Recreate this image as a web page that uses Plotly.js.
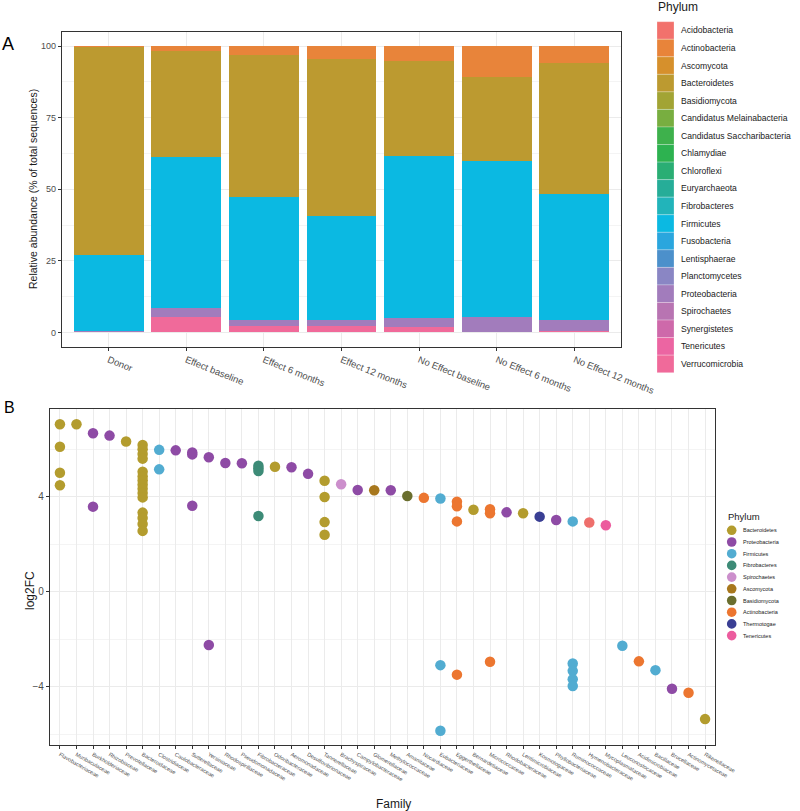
<!DOCTYPE html>
<html>
<head>
<meta charset="utf-8">
<script src="https://cdn.plot.ly/plotly-3.0.1.min.js"></script>
<style>html,body{margin:0;padding:0;background:#fff;}#chart{width:800px;height:811px;}</style>
</head>
<body>
<div id="chart"></div>
<script>
// ---------- Panel A data ----------
const groups = ['Donor','Effect baseline','Effect 6 months','Effect 12 months','No Effect baseline','No Effect 6 months','No Effect 12 months'];
const phyla = ['Acidobacteria','Actinobacteria','Ascomycota','Bacteroidetes','Basidiomycota','Candidatus Melainabacteria','Candidatus Saccharibacteria','Chlamydiae','Chloroflexi','Euryarchaeota','Fibrobacteres','Firmicutes','Fusobacteria','Lentisphaerae','Planctomycetes','Proteobacteria','Spirochaetes','Synergistetes','Tenericutes','Verrucomicrobia'];
const phylaColors = ['#F2716C','#E8843A','#D6902C','#BC9A30','#A2A434','#78AE40','#3EB14C','#2DB250','#2AAE74','#26AD98','#22B4BA','#0BB9E2','#2AA6DE','#4C90CB','#8A86C4','#A27CBC','#B874B2','#CE69AA','#EC65A2','#F06A9A'];
const actinobacteria  = [0.5, 1.6, 3.1, 4.7, 5.1, 10.7, 6.1];
const bacteroidetes   = [72.5, 37.0, 49.5, 54.7, 33.2, 29.5, 45.7];
const firmicutes      = [26.6, 53.0, 43.1, 36.3, 56.8, 54.6, 43.9];
const proteobacteria  = [0.4, 3.2, 2.1, 2.1, 2.9, 4.9, 3.8];
const verrucomicrobia = [0.0, 5.2, 2.2, 2.2, 2.0, 0.3, 0.5];
const barSeries = {
  'Verrucomicrobia': verrucomicrobia,
  'Proteobacteria': proteobacteria,
  'Firmicutes': firmicutes,
  'Bacteroidetes': bacteroidetes,
  'Actinobacteria': actinobacteria
};

// ---------- Panel B data ----------
const families = ['Flavobacteriaceae','Muribaculaceae','Burkholderiaceae','Rhizobiaceae','Prevotellaceae','Bacteroidaceae','Clostridiaceae','Caulobacteraceae','Sutterellaceae','Yersiniaceae','Rhodospirillaceae','Pseudomonadaceae','Fibrobacteraceae','Odoribacteraceae','Aeromonadaceae','Desulfovibrionaceae','Tannerellaceae','Brachyspiraceae','Campylobacteraceae','Glomerellaceae','Methylococcaceae','Amanitaceae','Nocardiaceae','Eubacteriaceae','Eggerthellaceae','Bernardetiaceae','Micrococcaceae','Rhodobacteraceae','Lentimicrobiaceae','Kosmotogaceae','Phyllobacteriaceae','Ruminococcaceae','Hymenobacteraceae','Mycoplasmataceae','Leuconostocaceae','Acidimicrobiaceae','Bacillaceae','Brucellaceae','Actinomycetaceae','Rikenellaceae'];
const ptFamily = [1,1,1,1, 2, 3,3, 4, 5,
  6,6,6,6,6,6,6,6,6,6,6,6,6,6,6,
  7,7, 8, 9,9,9, 10,10, 11, 12, 13,13,13,13, 14, 15, 16, 17,17,17,17, 18, 19, 20, 21, 22, 23,
  24,24,24, 25,25,25,25, 26, 27,27,27, 28, 29, 30, 31, 32,32,32,32,32, 33, 34, 35, 36, 37, 38, 39, 40];
const ptLog2FC = [7.05,6.1,5.01,4.48, 7.05, 6.67,3.58, 6.57, 6.32,
  6.18,6.0,5.8,5.6,5.05,4.85,4.68,4.5,4.33,4.15,3.97,3.33,3.1,2.85,2.56,
  5.97,5.15, 5.95, 5.86,5.78,3.62, 5.66,-2.24, 5.42, 5.41, 5.3,5.2,5.08,3.19, 5.26, 5.24, 4.96, 4.67,3.99,2.93,2.4, 4.52, 4.28, 4.27, 4.27, 4.03, 3.95,
  3.92,-3.09,-5.85, 3.79,3.6,2.96,-3.49, 3.45, 3.47,3.3,-2.95, 3.34, 3.3, 3.16, 3.02, 2.96,-3.02,-3.33,-3.68,-3.97, 2.91, 2.8, -2.27, -2.93, -3.3, -4.08, -4.25, -5.36];
const ptPhylum = ['Bacteroidetes','Bacteroidetes','Bacteroidetes','Bacteroidetes','Bacteroidetes','Proteobacteria','Proteobacteria','Proteobacteria','Bacteroidetes',
  'Bacteroidetes','Bacteroidetes','Bacteroidetes','Bacteroidetes','Bacteroidetes','Bacteroidetes','Bacteroidetes','Bacteroidetes','Bacteroidetes','Bacteroidetes','Bacteroidetes','Bacteroidetes','Bacteroidetes','Bacteroidetes','Bacteroidetes',
  'Firmicutes','Firmicutes','Proteobacteria','Proteobacteria','Proteobacteria','Proteobacteria','Proteobacteria','Proteobacteria','Proteobacteria','Proteobacteria','Fibrobacteres','Fibrobacteres','Fibrobacteres','Fibrobacteres','Bacteroidetes','Proteobacteria','Proteobacteria','Bacteroidetes','Bacteroidetes','Bacteroidetes','Bacteroidetes','Spirochaetes','Proteobacteria','Ascomycota','Proteobacteria','Basidiomycota','Actinobacteria',
  'Firmicutes','Firmicutes','Firmicutes','Actinobacteria','Actinobacteria','Actinobacteria','Actinobacteria','Bacteroidetes','Actinobacteria','Actinobacteria','Actinobacteria','Proteobacteria','Bacteroidetes','Thermotogae','Proteobacteria','Firmicutes','Firmicutes','Firmicutes','Firmicutes','Firmicutes','Acidobacteria','Tenericutes','Firmicutes','Actinobacteria','Firmicutes','Proteobacteria','Actinobacteria','Bacteroidetes'];
const bPhyla = ['Bacteroidetes','Proteobacteria','Firmicutes','Fibrobacteres','Spirochaetes','Ascomycota','Basidiomycota','Actinobacteria','Thermotogae','Tenericutes'];
const bColors = ['#B39C2E','#8E4BA5','#52ACD1','#3D8B77','#CC8FCC','#A8781E','#6A6E2E','#EC7630','#3A3F94','#EC5C9E'];
const extraPhyla = ['Acidobacteria'];
const extraColors = ['#EE6F6C'];

// ---------- helpers ----------
const W = 800, H = 811;
const px = x => x / W;
const py = y => 1 - y / H;
const FONT = 'Liberation Sans, Arial, sans-serif';

const traces = [];
// Panel A bars (first trace drawn at bottom of stack)
Object.keys(barSeries).forEach(name => {
  traces.push({
    type: 'bar', x: groups, y: barSeries[name], name: name,
    marker: {color: phylaColors[phyla.indexOf(name)], line: {width: 0}},
    width: 0.9, xaxis: 'x', yaxis: 'y', showlegend: false, hoverinfo: 'skip'
  });
});
// Panel B points
const allB = bPhyla.concat(extraPhyla);
const allBC = bColors.concat(extraColors);
allB.forEach((ph, k) => {
  const xs = [], ys = [];
  ptPhylum.forEach((p, i) => { if (p === ph) { xs.push(families[ptFamily[i] - 1]); ys.push(ptLog2FC[i]); } });
  traces.push({
    type: 'scatter', mode: 'markers', x: xs, y: ys, name: ph,
    marker: {color: allBC[k], size: 10.5, line: {width: 0}},
    xaxis: 'x2', yaxis: 'y2', showlegend: false, hoverinfo: 'skip', cliponaxis: false
  });
});

const shapes = [];
const annotations = [];
// Legend A
const keyTop = 21.7, keyH = 17.55;
phyla.forEach((ph, i) => {
  const y0 = keyTop + i * keyH;
  shapes.push({type: 'rect', xref: 'paper', yref: 'paper', x0: px(657), x1: px(674), y0: py(y0), y1: py(y0 + keyH),
    fillcolor: phylaColors[i], line: {color: 'rgba(255,255,255,0.5)', width: 0.5}, layer: 'above'});
  annotations.push({xref: 'paper', yref: 'paper', x: px(679), y: py(y0 + keyH / 2), text: ph, showarrow: false,
    xanchor: 'left', yanchor: 'middle', font: {family: FONT, size: 8.6, color: '#1A1A1A'}});
});
annotations.push({xref: 'paper', yref: 'paper', x: px(656), y: py(7), text: 'Phylum', showarrow: false,
  xanchor: 'left', yanchor: 'middle', font: {family: FONT, size: 12, color: '#1A1A1A'}});
// Legend B
bPhyla.forEach((ph, i) => {
  const cy = 530.3 + i * 11.7, cx = 731.7, r = 4.8;
  shapes.push({type: 'circle', xref: 'paper', yref: 'paper', x0: px(cx - r), x1: px(cx + r), y0: py(cy - r), y1: py(cy + r),
    fillcolor: bColors[i], line: {width: 0}, layer: 'above'});
  annotations.push({xref: 'paper', yref: 'paper', x: px(741), y: py(cy), text: ph, showarrow: false,
    xanchor: 'left', yanchor: 'middle', font: {family: FONT, size: 5.5, color: '#1A1A1A'}});
});
annotations.push({xref: 'paper', yref: 'paper', x: px(726), y: py(516.5), text: 'Phylum', showarrow: false,
  xanchor: 'left', yanchor: 'middle', font: {family: FONT, size: 9.5, color: '#1A1A1A'}});
// Panel labels & axis titles
annotations.push({xref: 'paper', yref: 'paper', x: px(0), y: py(43.5), text: 'A', showarrow: false,
  xanchor: 'left', yanchor: 'middle', font: {family: FONT, size: 18, color: '#000'}});
annotations.push({xref: 'paper', yref: 'paper', x: px(2), y: py(407), text: 'B', showarrow: false,
  xanchor: 'left', yanchor: 'middle', font: {family: FONT, size: 16, color: '#000'}});
annotations.push({xref: 'paper', yref: 'paper', x: px(33), y: py(189), text: 'Relative abundance (% of total sequences)', showarrow: false,
  textangle: -90, xanchor: 'center', yanchor: 'middle', font: {family: FONT, size: 10.5, color: '#1A1A1A'}});
annotations.push({xref: 'paper', yref: 'paper', x: px(30), y: py(591), text: 'log2FC', showarrow: false,
  textangle: -90, xanchor: 'center', yanchor: 'middle', font: {family: FONT, size: 12, color: '#1A1A1A'}});
annotations.push({xref: 'paper', yref: 'paper', x: px(393), y: py(804), text: 'Family', showarrow: false,
  xanchor: 'center', yanchor: 'middle', font: {family: FONT, size: 12, color: '#1A1A1A'}});

const axisCommon = {
  showline: true, mirror: true, linecolor: '#333333', linewidth: 1.2,
  showgrid: true, gridcolor: '#EBEBEB', gridwidth: 1, zeroline: false,
  ticks: 'outside', ticklen: 3, tickcolor: '#333333', tickwidth: 1,
  tickfont: {family: FONT, color: '#4D4D4D'}
};

const layout = {
  width: W, height: H, margin: {l: 0, r: 0, t: 0, b: 0},
  paper_bgcolor: '#FFFFFF', plot_bgcolor: '#FFFFFF',
  barmode: 'stack', showlegend: false, font: {family: FONT},
  xaxis: Object.assign({}, axisCommon, {
    domain: [px(62), px(621)], anchor: 'y', type: 'category', categoryorder: 'array', categoryarray: groups,
    range: [-0.6, 6.6], tickangle: 22, tickfont: {family: FONT, color: '#4D4D4D', size: 9.5}
  }),
  yaxis: Object.assign({}, axisCommon, {
    domain: [py(346.7), py(31.7)], anchor: 'x', range: [-5, 105], tickvals: [0, 25, 50, 75, 100],
    tickfont: {family: FONT, color: '#4D4D4D', size: 9},
    minor: {tickvals: [12.5, 37.5, 62.5, 87.5], showgrid: true, gridcolor: '#F4F4F4', ticks: ''}
  }),
  xaxis2: Object.assign({}, axisCommon, {
    domain: [px(50), px(715)], anchor: 'y2', type: 'category', categoryorder: 'array', categoryarray: families,
    range: [-0.6, 39.6], tickangle: 30, tickmode: 'array', tickvals: families, ticktext: families,
    tickfont: {family: FONT, color: '#4D4D4D', size: 5.5}
  }),
  yaxis2: Object.assign({}, axisCommon, {
    domain: [py(745), py(409)], anchor: 'x2', range: [-6.45, 7.69], tickvals: [-4, 0, 4],
    tickfont: {family: FONT, color: '#4D4D4D', size: 10},
    minor: {tickvals: [-6, -2, 2, 6], showgrid: true, gridcolor: '#F4F4F4', ticks: ''}
  }),
  shapes: shapes,
  annotations: annotations
};

Plotly.newPlot('chart', traces, layout, {displayModeBar: false, staticPlot: true});
</script>
</body>
</html>
